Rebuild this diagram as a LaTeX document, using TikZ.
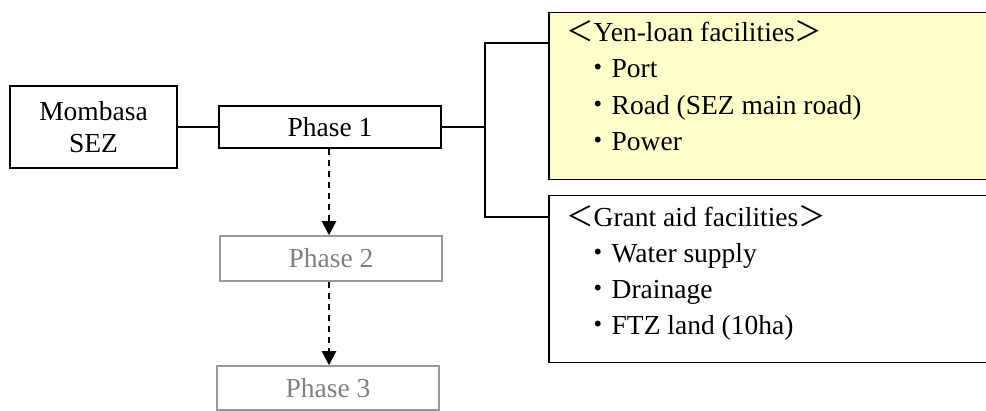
\documentclass[tikz,border=0pt]{standalone}
\usepackage{fontspec}
\setmainfont{Liberation Serif}
\newfontfamily\cjk{Noto Sans CJK JP}
\usetikzlibrary{arrows.meta}
\newcommand{\lb}{{\cjk ＜}}
\newcommand{\rb}{{\cjk ＞}}
\newcommand{\bul}{{\cjk ・}}
\tikzset{
  x=1pt, y=-1pt,
  every node/.style={font=\fontsize{27.5}{32}\selectfont},
  box/.style={draw=black, line width=1.5pt, fill=white, inner sep=0pt},
  graybox/.style={draw=black!40, line width=1.5pt, fill=white, inner sep=0pt, text=black!50},
  link/.style={line width=2pt},
  flow/.style={line width=2pt, dash pattern=on 6pt off 5pt, -{Triangle[length=14pt,width=14pt]}},
  item/.style={anchor=base west, inner sep=0pt},
}
\begin{document}
\begin{tikzpicture}
\useasboundingbox (0,0) rectangle (986,411);
\clip (0,0) rectangle (986,411);
% left column
\node[box, minimum width=167pt, minimum height=82pt, align=center] (sez) at (93.5,127) {Mombasa\\SEZ};
\node[box, minimum width=222pt, minimum height=42pt] (p1) at (330,127) {Phase 1};
\node[graybox, minimum width=222pt, minimum height=45pt] (p2) at (331,258.5) {Phase 2};
\node[graybox, minimum width=222pt, minimum height=44pt] (p3) at (328,388) {Phase 3};
% facility boxes, running past the right edge
\node[box, fill={rgb,255:red,255;green,255;blue,204}, minimum width=460pt, minimum height=167pt, anchor=north west] (yen) at (548,12) {};
\node[box, minimum width=460pt, minimum height=167pt, anchor=north west] (grant) at (548,195) {};
% list texts
\node[item] (yt) at (566,42) {\lb Yen-loan facilities\rb};
\node[item] (y1) at (584,78) {\bul Port};
\node[item] (y2) at (584,115) {\bul Road (SEZ main road)};
\node[item] (y3) at (584,151) {\bul Power};
\node[item] (gt) at (566,227) {\lb Grant aid facilities\rb};
\node[item] (g1) at (584,263) {\bul Water supply};
\node[item] (g2) at (584,299) {\bul Drainage};
\node[item] (g3) at (584,335) {\bul FTZ land (10ha)};
% connectors
\coordinate (ja) at (485,43);
\coordinate (jb) at (485,217);
\draw[link] (sez.east) -- (p1.west);
\draw[link] (p1.east) -- (p1.east -| ja);
\draw[link] (yen.west |- ja) -- (ja) -- (jb) -- (grant.west |- jb);
\draw[flow] (p1.south -| 329,0) -- (p2.north -| 329,0);
\draw[flow] (p2.south -| 329,0) -- (p3.north -| 329,0);
\end{tikzpicture}
\end{document}
